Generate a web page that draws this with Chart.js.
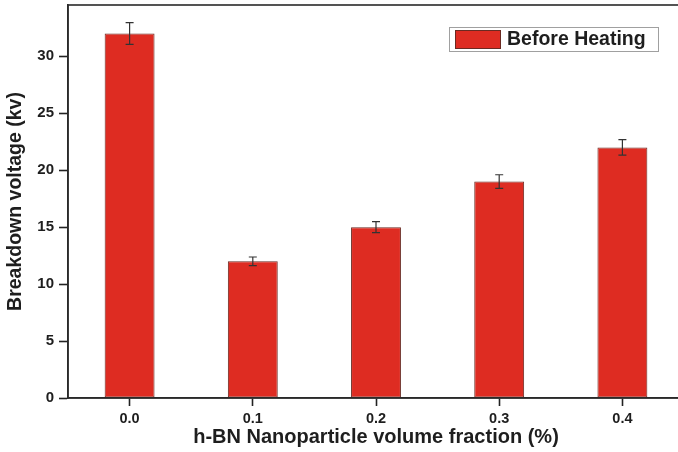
<!DOCTYPE html>
<html>
<head>
<meta charset="utf-8">
<script src="https://cdn.jsdelivr.net/npm/chart.js@4/dist/chart.umd.min.js"></script>
<style>
  html, body { margin: 0; padding: 0; background: #fff; overflow: hidden; }
  #wrap { width: 678px; height: 452px; overflow: hidden; }
  #c { display: block; }
</style>
</head>
<body>
<div id="wrap"><canvas id="c" width="690" height="452" style="width:690px;height:452px"></canvas></div>
<script>
// Breakdown voltage of h-BN nanofluids before heating
const categories = ['0.0', '0.1', '0.2', '0.3', '0.4'];
const seriesLabel = 'Before Heating';
const breakdownKv = [32, 12, 15, 19, 22];
const errorKv = [0.95, 0.38, 0.48, 0.6, 0.68];
const yTicks = [0, 5, 10, 15, 20, 25, 30];

const FONT = 'Liberation Sans, Arial, Helvetica, sans-serif';
const INK = '#1e1e1e';
const BAR_RED = '#de2c22';

// error bars drawn through the value scale
const errorBars = {
  id: 'errorBars',
  afterDatasetsDraw(chart) {
    const { ctx } = chart;
    const y = chart.scales.y;
    const meta = chart.getDatasetMeta(0);
    ctx.save();
    ctx.strokeStyle = '#333';
    ctx.lineWidth = 1.2;
    meta.data.forEach((bar, i) => {
      const v = breakdownKv[i], e = errorKv[i];
      const yTop = y.getPixelForValue(v + e);
      const yBot = y.getPixelForValue(v - e);
      const cx = bar.x;
      ctx.beginPath();
      ctx.moveTo(cx, yTop); ctx.lineTo(cx, yBot);
      ctx.moveTo(cx - 4, yTop); ctx.lineTo(cx + 4, yTop);
      ctx.moveTo(cx - 4, yBot); ctx.lineTo(cx + 4, yBot);
      ctx.stroke();
    });
    ctx.restore();
  }
};

// closed frame around the plot area
const frame = {
  id: 'frame',
  afterDraw(chart) {
    const { ctx, chartArea: a } = chart;
    ctx.save();
    ctx.strokeStyle = '#2a2a2a';
    ctx.lineWidth = 1.6;
    ctx.strokeRect(a.left, a.top, a.right - a.left, a.bottom - a.top);
    ctx.restore();
  }
};

// boxed legend in the upper right of the plot
const boxLegend = {
  id: 'boxLegend',
  afterDraw(chart) {
    const { ctx, chartArea: a } = chart;
    const x0 = a.left + 381, y0 = a.top + 22, w = 209, h = 24;
    ctx.save();
    ctx.fillStyle = '#fff';
    ctx.fillRect(x0, y0, w, h);
    ctx.strokeStyle = '#a0a0a0';
    ctx.lineWidth = 1;
    ctx.strokeRect(x0 + 0.5, y0 + 0.5, w, h);
    ctx.fillStyle = BAR_RED;
    ctx.fillRect(x0 + 6, y0 + 3, 46, 19);
    ctx.strokeStyle = '#6a2a22';
    ctx.strokeRect(x0 + 6.5, y0 + 3.5, 45, 18);
    ctx.fillStyle = INK;
    ctx.font = 'bold 19.5px ' + FONT;
    ctx.textBaseline = 'middle';
    ctx.fillText(seriesLabel, x0 + 58, y0 + h / 2 + 1);
    ctx.restore();
  }
};

new Chart(document.getElementById('c'), {
  type: 'bar',
  data: {
    labels: categories,
    datasets: [{
      label: seriesLabel,
      data: breakdownKv,
      backgroundColor: BAR_RED,
      borderColor: '#6a2a22',
      borderWidth: 1,
      borderSkipped: false,
      categoryPercentage: 1,
      barPercentage: 0.405
    }]
  },
  options: {
    responsive: false,
    animation: false,
    layout: { padding: { left: 0, top: 5, right: 6, bottom: 0 } },
    plugins: { legend: { display: false }, tooltip: { enabled: false } },
    scales: {
      x: {
        grid: { display: true, drawOnChartArea: false, drawTicks: true, tickLength: 8, tickColor: '#222', tickWidth: 1.6, offset: false },
        border: { display: true, color: '#2a2a2a', width: 1.6 },
        ticks: { color: INK, font: { family: FONT, size: 14.5, weight: 'bold' }, padding: 4, maxRotation: 0 },
        title: { display: true, text: 'h-BN Nanoparticle volume fraction (%)', color: INK, font: { family: FONT, size: 20, weight: 'bold' }, padding: { top: 1, bottom: 3 } },
        afterFit(s) { s.height = 54; s.paddingLeft = 0; s.paddingRight = 0; }
      },
      y: {
        min: 0,
        max: 34.5,
        afterBuildTicks(s) { s.ticks = yTicks.map(v => ({ value: v })); },
        grid: { display: true, drawOnChartArea: false, drawTicks: true, tickLength: 9, tickColor: '#222', tickWidth: 1.6 },
        border: { display: true, color: '#2a2a2a', width: 1.6 },
        ticks: { color: INK, font: { family: FONT, size: 15, weight: 'bold' }, padding: 5 },
        title: { display: true, text: 'Breakdown voltage (kv)', color: INK, font: { family: FONT, size: 19.5, weight: 'bold' }, padding: { top: 4, bottom: 0 } },
        afterFit(s) { s.width = 68; s.paddingTop = 0; s.paddingBottom = 0; }
      }
    }
  },
  plugins: [errorBars, frame, boxLegend]
});
</script>
</body>
</html>
